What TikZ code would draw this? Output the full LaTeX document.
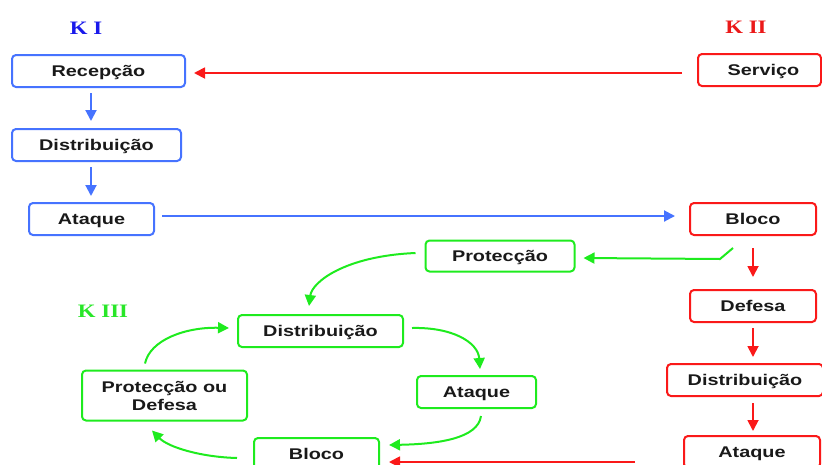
\documentclass[tikz,border=0pt]{standalone}
\usepackage{fontspec}
\usetikzlibrary{arrows.meta,calc}
\newfontfamily\boxfont[FakeStretch=1.28]{Liberation Sans}
\newfontfamily\kfont[FakeStretch=1.2]{Liberation Serif}
\definecolor{bbox}{RGB}{70,115,255}
\definecolor{rbox}{RGB}{250,25,25}
\definecolor{gbox}{RGB}{30,235,30}
\definecolor{kblue}{RGB}{25,25,235}
\definecolor{kred}{RGB}{235,25,25}
\definecolor{kgreen}{RGB}{40,230,40}
\definecolor{txt}{RGB}{25,25,25}
\tikzset{
  box/.style={draw, rounded corners=4pt, line width=2pt, inner sep=0pt,
    text height=11pt, text depth=0pt,
    text=txt, font=\boxfont\bfseries\fontsize{15.5}{18}\selectfont, align=center},
  bluebox/.style={box, draw=bbox},
  redbox/.style={box, draw=rbox},
  greenbox/.style={box, draw=gbox},
  klabel/.style={font=\kfont\bfseries\fontsize{19}{22}\selectfont},
  arr/.style={line width=2pt, -{Triangle[length=11pt,width=11pt]}},
  barr/.style={arr, draw=bbox},
  rarr/.style={arr, line width=1.8pt, draw=rbox},
  garr/.style={arr, draw=gbox},
}
\begin{document}
\begin{tikzpicture}[x=1pt,y=-1pt]
\useasboundingbox (0,0) rectangle (822,464);
\clip (0,0) rectangle (822,464);
% labels
\node[klabel, text=kblue] (k1) at (86,28) {K I};
\node[klabel, text=kred] (k2) at (746,27) {K II};
\node[klabel, text=kgreen] (k3) at (103,311) {K III};
% K I
\node[bluebox, minimum width=173pt, minimum height=32pt] (rec) at (98.5,71) {Recepção};
\node[bluebox, minimum width=169pt, minimum height=32pt] (d1) at (96.5,145) {Distribuição};
\node[bluebox, minimum width=125pt, minimum height=32pt] (a1) at (91.5,219) {Ataque};
% K II
\node[redbox, minimum width=123pt, minimum height=32pt] (serv) at (759.5,70) {\hspace{8pt}Serviço};
\node[redbox, minimum width=126pt, minimum height=32pt] (b2) at (753,219) {Bloco};
\node[redbox, minimum width=126pt, minimum height=32pt] (def) at (753,306) {Defesa};
\node[redbox, minimum width=156pt, minimum height=32pt] (d2) at (745,380) {Distribuição};
\node[redbox, minimum width=136pt, minimum height=32pt] (a2) at (752,452) {Ataque};
% K III
\node[greenbox, minimum width=149pt, minimum height=31pt] (prot) at (500,256) {Protecção};
\node[greenbox, minimum width=165pt, minimum height=32pt] (d3) at (320.5,331) {Distribuição};
\node[greenbox, minimum width=119pt, minimum height=32pt] (a3) at (476.5,392) {Ataque};
\node[greenbox, text height=, text depth=, minimum width=165pt, minimum height=50pt] (pd) at (164.5,395.5) {Protecção ou\\Defesa};
\node[greenbox, minimum width=125pt, minimum height=32pt] (b3) at (316.5,454) {Bloco};
% blue arrows
\draw[barr] ([xshift=-7.5pt,yshift=-5pt]rec.south) -- ([xshift=-5.5pt,yshift=7pt]d1.north);
\draw[barr] ([xshift=-5.5pt,yshift=-5pt]d1.south) -- ([xshift=-0.5pt,yshift=6pt]a1.north);
\draw[barr] ([xshift=7pt,yshift=3pt]a1.east) -- ([xshift=-14pt,yshift=3pt]b2.west);
% red arrows
\draw[rarr] ([xshift=-15pt,yshift=-3pt]serv.west) -- ([xshift=8pt,yshift=-2pt]rec.east);
\draw[rarr] ([yshift=-12pt]b2.south) -- ([yshift=12pt]def.north);
\draw[rarr] ([yshift=-5pt]def.south) -- ([xshift=8pt,yshift=6pt]d2.north);
\draw[rarr] ([xshift=8pt,yshift=-6pt]d2.south) -- ([xshift=1pt,yshift=4pt]a2.north);
\draw[rarr] ([xshift=-48pt,yshift=-10pt]a2.west) -- ([xshift=9pt,yshift=-8pt]b3.east);
% green arrows
\draw[garr] ([xshift=-20pt,yshift=-12pt]b2.south) -- ++(-13,11) -- ([xshift=8pt,yshift=-2pt]prot.east);
\draw[garr] ([xshift=-9pt,yshift=3pt]prot.west) .. controls (345,256) and (312,282) .. ([xshift=-11.5pt,yshift=8pt]d3.north);
\draw[garr] ([xshift=8pt,yshift=3pt]d3.east) .. controls (452,327) and (478,342) .. ([xshift=3.5pt,yshift=6pt]a3.north);
\draw[garr] ([xshift=4.5pt,yshift=-7pt]a3.south) .. controls (478,438) and (440,444) .. ([xshift=9pt,yshift=9pt]b3.east);
\draw[garr] ([xshift=-16pt,yshift=-4pt]b3.west) .. controls (200,457) and (168,447) .. ([xshift=-12.5pt,yshift=-9pt]pd.south);
\draw[garr] ([xshift=-19.5pt,yshift=6pt]pd.north) .. controls (150,340) and (185,327) .. ([xshift=-8pt,yshift=3pt]d3.west);
\end{tikzpicture}
\end{document}
